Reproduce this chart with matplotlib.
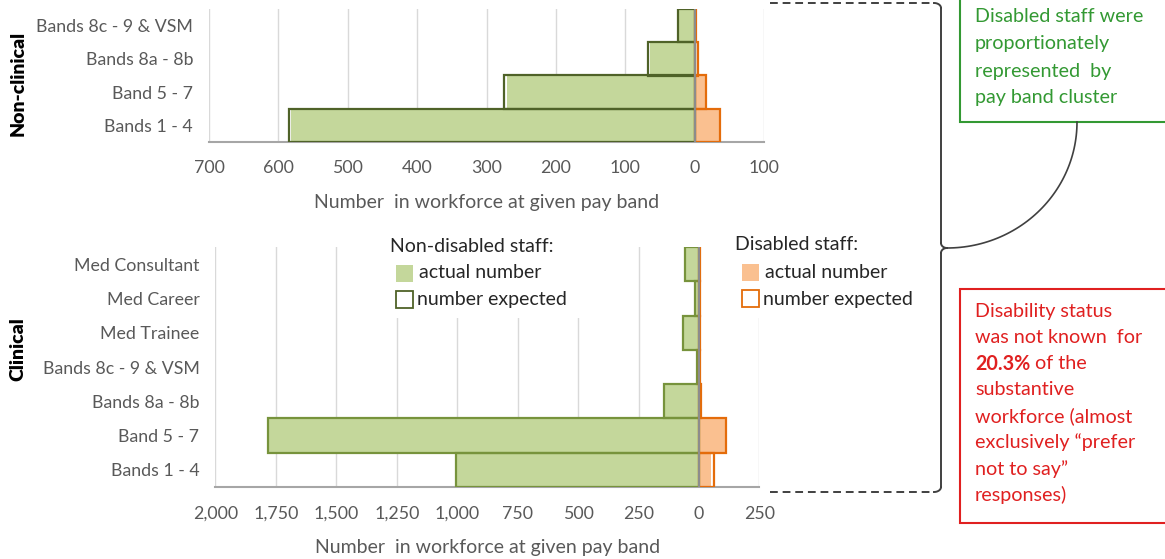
import matplotlib
matplotlib.use("Agg")
import matplotlib.pyplot as plt
import numpy as np
from matplotlib.patches import Rectangle
from matplotlib.ticker import FuncFormatter

plt.rcParams['font.family'] = ['Lato', 'DejaVu Sans']

# Non-clinical (bottom to top)
nc_cats = ["Bands 1 - 4", "Band 5 - 7", "Bands 8a - 8b", "Bands 8c - 9 & VSM"]
nc_nd_actual = [582, 270, 65, 24]
nc_nd_expected = [584, 275, 67, 24]
nc_d_actual = [37, 18, 1, 1]
nc_d_expected = [36, 16, 5, 2]

# Clinical (bottom to top)
cl_cats = ["Bands 1 - 4", "Band 5 - 7", "Bands 8a - 8b", "Bands 8c - 9 & VSM",
           "Med Trainee", "Med Career", "Med Consultant"]
cl_nd_actual = [1005, 1785, 145, 8, 63, 15, 56]
cl_nd_expected = [1005, 1782, 145, 9, 64, 16, 57]
cl_d_actual = [50, 113, 3, 0, 1, 0, 2]
cl_d_expected = [64, 112, 7, 5, 6, 5, 6]

nc_ticks = [-700, -600, -500, -400, -300, -200, -100, 0, 100]
cl_ticks = [-2000, -1750, -1500, -1250, -1000, -750, -500, -250, 0, 250]

GREEN_FILL = "#C4D79B"
ORANGE_FILL = "#FAC090"
ORANGE_EDGE = "#E46C0A"
GREY_TXT = "#595959"

W, H = 1165, 559
fig = plt.figure(figsize=(W / 100, H / 100), dpi=100)


def px_axes(l, t, r, b):
    return fig.add_axes([l / W, 1 - b / H, (r - l) / W, (b - t) / H])


def draw_panel(ax, cats, nd_act, nd_exp, d_act, d_exp, ticks, green_edge, fmt):
    y = np.arange(len(cats))
    ax.barh(y, -np.array(nd_act), height=1.0, color=GREEN_FILL, zorder=2)
    ax.barh(y, -np.array(nd_exp), height=1.0, facecolor="none",
            edgecolor=green_edge, linewidth=1.6, zorder=3)
    ax.barh(y, d_act, height=1.0, color=ORANGE_FILL, zorder=2)
    ax.barh(y, d_exp, height=1.0, facecolor="none",
            edgecolor=ORANGE_EDGE, linewidth=1.6, zorder=3)
    ax.axvline(0, color="#8C8C8C", lw=1.5, zorder=4)
    ax.set_xlim(ticks[0], ticks[-1])
    ax.set_ylim(-0.5, len(cats) - 0.5)
    ax.set_xticks(ticks)
    ax.xaxis.set_major_formatter(FuncFormatter(fmt))
    ax.set_yticks(y)
    ax.set_yticklabels(cats)
    ax.grid(axis="x", color="#D9D9D9", lw=1, zorder=0)
    ax.set_axisbelow(True)
    for s in ["left", "top", "right"]:
        ax.spines[s].set_visible(False)
    ax.spines["bottom"].set_color("#A6A6A6")
    ax.spines["bottom"].set_linewidth(1.5)
    ax.tick_params(axis="y", length=0, pad=11.5, labelsize=12.8, labelcolor=GREY_TXT)
    ax.tick_params(axis="x", length=0, pad=13.5, labelsize=12.8, labelcolor=GREY_TXT)
    ax.set_xlabel("Number  in workforce at given pay band", fontsize=14,
                  color=GREY_TXT, labelpad=12.5)


ax1 = px_axes(209, 9.3, 764, 141.7)
draw_panel(ax1, nc_cats, nc_nd_actual, nc_nd_expected, nc_d_actual, nc_d_expected,
           nc_ticks, "#4F6228", lambda v, p: f"{abs(v):.0f}")

ax2 = px_axes(215.4, 247, 759.4, 487)
draw_panel(ax2, cl_cats, cl_nd_actual, cl_nd_expected, cl_d_actual, cl_d_expected,
           cl_ticks, "#77933C", lambda v, p: f"{abs(v):,.0f}")

# overlay in pixel coords for legend, bracket and notes
ov = fig.add_axes([0, 0, 1, 1], zorder=10)
ov.set_xlim(0, W)
ov.set_ylim(H, 0)
ov.axis("off")
ov.patch.set_alpha(0)

fig.text(18 / W, 1 - 83 / H, "Non-clinical", rotation=90, ha="center", va="center",
         fontsize=14, fontweight="heavy", color="black")
fig.text(18 / W, 1 - 349 / H, "Clinical", rotation=90, ha="center", va="center",
         fontsize=14, fontweight="heavy", color="black")

# legends
ov.add_patch(Rectangle((385, 236), 243, 82, facecolor="white", edgecolor="none"))
ov.add_patch(Rectangle((728, 236), 207, 82, facecolor="white", edgecolor="none"))

leg_txt = "#262626"
ov.text(390, 247, "Non-disabled staff:", fontsize=14, color=leg_txt, va="center")
ov.add_patch(Rectangle((396, 265), 17, 17, facecolor=GREEN_FILL, edgecolor="none"))
ov.text(419, 273, "actual number", fontsize=14, color=leg_txt, va="center")
ov.add_patch(Rectangle((396, 291), 17, 17, facecolor="white", edgecolor="#4F6228", lw=1.3))
ov.text(417, 299, "number expected", fontsize=14, color=leg_txt, va="center")

ov.text(735, 245, "Disabled staff:", fontsize=14, color=leg_txt, va="center")
ov.add_patch(Rectangle((742, 264), 17, 17, facecolor=ORANGE_FILL, edgecolor="none"))
ov.text(765, 272, "actual number", fontsize=14, color=leg_txt, va="center")
ov.add_patch(Rectangle((742, 290), 17, 17, facecolor="white", edgecolor=ORANGE_EDGE, lw=1.3))
ov.text(763, 299, "number expected", fontsize=14, color=leg_txt, va="center")

# bracket
bc = "#404040"
ov.plot([770, 934], [3, 3], color=bc, lw=1.4, ls=(0, (4, 2.5)))
ov.plot([770, 934], [492, 492], color=bc, lw=1.4, ls=(0, (4, 2.5)))
t = np.linspace(0, np.pi / 2, 20)
ov.plot(934 + 7 * np.sin(t), 3 + 5 * (1 - np.cos(t)), color=bc, lw=1.4)
ov.plot([941, 941], [8, 243], color=bc, lw=1.4)
ov.plot(941 + 6 * (1 - np.cos(t)), 243 + 5 * np.sin(t), color=bc, lw=1.4)
ov.plot(941 + 6 * (1 - np.cos(t)), 253 - 5 * np.sin(t), color=bc, lw=1.4)
ov.plot([941, 941], [253, 487], color=bc, lw=1.4)
ov.plot(934 + 7 * np.sin(t), 492 - 5 * (1 - np.cos(t)), color=bc, lw=1.4)
# connector arc to the green box
a = np.linspace(0, np.pi / 2, 60)
ov.plot(947 + 130 * np.sin(a), 122 + 126 * np.cos(a), color=bc, lw=1.2)

# green note
fs_note = 14.2
ov.add_patch(Rectangle((960, -5), 215, 127, facecolor="white", edgecolor="#339933", lw=1.5))
for yy, line in zip([17, 44, 71, 97], ["Disabled staff were", "proportionately",
                                       "represented  by", "pay band cluster"]):
    ov.text(975, yy, line, fontsize=fs_note, color="#339933", va="center")

# red note
red = "#E02020"
ov.add_patch(Rectangle((960, 289), 215, 234, facecolor="white", edgecolor=red, lw=1.5))
red_lines = ["Disability status", "was not known  for", None, "substantive",
             "workforce (almost", "exclusively \u201cprefer", "not to say\u201d",
             "responses)"]
for i, line in enumerate(red_lines):
    yy = 311 + i * 26.3
    if line is None:
        b = ov.text(975, yy, "20.3%", fontsize=fs_note, color=red, va="center",
                    fontweight="bold")
        ov.annotate(" of the", xy=(1, 0.5), xycoords=b, fontsize=fs_note, color=red,
                    va="center", ha="left")
    else:
        ov.text(975, yy, line, fontsize=fs_note, color=red, va="center")

fig.savefig("out.png", dpi=100)
